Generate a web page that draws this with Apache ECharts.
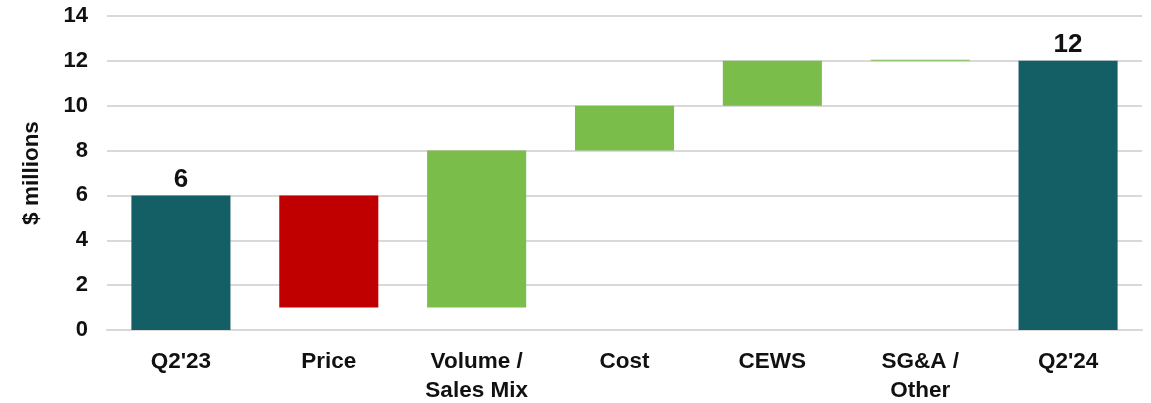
<!DOCTYPE html>
<html>
<head>
<meta charset="utf-8">
<script src="https://cdn.jsdelivr.net/npm/echarts@6/dist/echarts.min.js"></script>
<style>
  html, body { margin: 0; padding: 0; background: #fff; }
  #main { width: 1151px; height: 403px; }
</style>
</head>
<body>
<div id="main"></div>
<script>
// bridge: where each bar starts and ends ($ millions)
var categories = ["Q2'23", "Price", "Volume /\nSales Mix", "Cost", "CEWS", "SG&A /\nOther", "Q2'24"];
var barFrom = [0, 6, 1, 8, 10, 12, 0];
var barTo   = [6, 1, 8, 10, 12, 12.05, 12];
var barKind = ['total', 'down', 'up', 'up', 'up', 'up', 'total'];
var totalLabels = ['6', '', '', '', '', '', '12'];
var yTicks = { min: 0, max: 14, interval: 2 };

var colors = { total: '#145e66', down: '#c00000', up: '#7abd4b' };

var baseData = barFrom.map(function (f, i) { return Math.min(f, barTo[i]); });
var visData = barFrom.map(function (f, i) {
  return {
    value: Math.abs(barTo[i] - f),
    itemStyle: { color: colors[barKind[i]] },
    label: { show: totalLabels[i] !== '', formatter: totalLabels[i] }
  };
});

var chart = echarts.init(document.getElementById('main'));
chart.setOption({
  backgroundColor: '#fff',
  animation: false,
  textStyle: { fontFamily: 'Liberation Sans, Arial, sans-serif' },
  grid: { left: 107, right: 9, top: 16, bottom: 73, outerBoundsMode: 'none' },
  xAxis: {
    type: 'category',
    data: categories,
    axisLine: { show: true, lineStyle: { color: '#d9d9d9', width: 2 } },
    axisTick: { show: false },
    axisLabel: {
      color: '#111', fontWeight: 'bold', fontSize: 22.5, margin: 17,
      lineHeight: 29, interval: 0
    }
  },
  yAxis: {
    type: 'value',
    min: yTicks.min, max: yTicks.max, interval: yTicks.interval,
    name: '$ millions',
    nameLocation: 'middle',
    nameGap: 64,
    nameTextStyle: { color: '#111', fontWeight: 'bold', fontSize: 22.5 },
    axisLine: { show: false },
    axisTick: { show: false },
    axisLabel: { color: '#111', fontWeight: 'bold', fontSize: 22, margin: 19 },
    splitLine: { lineStyle: { color: '#d9d9d9', width: 2 } }
  },
  series: [
    {
      type: 'bar', stack: 'wf', barWidth: '67%',
      itemStyle: { color: 'transparent' },
      data: baseData
    },
    {
      type: 'bar', stack: 'wf', barWidth: '67%',
      label: {
        position: 'top', distance: 3, color: '#111',
        fontWeight: 'bold', fontSize: 26
      },
      data: visData
    }
  ]
});
</script>
</body>
</html>
